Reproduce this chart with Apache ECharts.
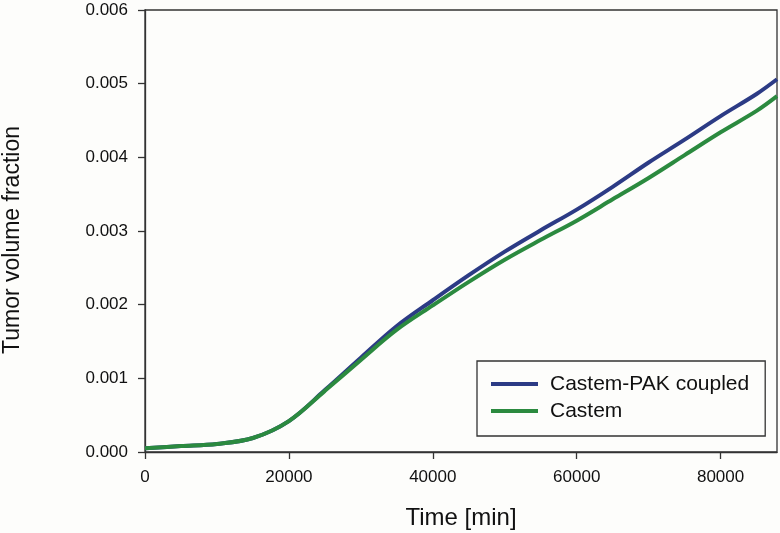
<!DOCTYPE html>
<html>
<head>
<meta charset="utf-8">
<script src="https://cdn.jsdelivr.net/npm/echarts@6/dist/echarts.min.js"></script>
<style>html,body{margin:0;padding:0;background:#fdfdfb;}#c{width:780px;height:533px;}</style>
</head>
<body>
<div id="c"></div>
<script>
var timeMin = [0, 5000, 10000, 15000, 20000, 25000, 30000, 35000, 40000, 45000, 50000, 55000, 60000, 65000, 70000, 75000, 80000, 85000, 87840];
var coupled = [0.00005, 0.00008, 0.00011, 0.00019, 0.00042, 0.00084, 0.00128, 0.00171, 0.00206, 0.00240, 0.00272, 0.00301, 0.00329, 0.00360, 0.00393, 0.00424, 0.00456, 0.00486, 0.00506];
var castem  = [0.00005, 0.00008, 0.00011, 0.00019, 0.00042, 0.00083, 0.00125, 0.00166, 0.00199, 0.00231, 0.00261, 0.00288, 0.00314, 0.00343, 0.00372, 0.00403, 0.00434, 0.00463, 0.00483];
var xTicks = [0, 20000, 40000, 60000, 80000];
var seriesNames = ['Castem-PAK coupled', 'Castem'];
var colors = ['#2c3b85', '#2b8a3f'];

function pairs(xs, ys){ return xs.map(function(x,i){ return [x, ys[i]]; }); }

var chart = echarts.init(document.getElementById('c'));
var font = 'Liberation Sans, Arial, sans-serif';
chart.setOption({
  backgroundColor: '#fdfdfb',
  animation: false,
  grid: { left: 145, right: 3, top: 10, bottom: 81, outerBoundsMode: 'none', containLabel: false, show: true, borderColor: '#333', borderWidth: 1.3, backgroundColor: 'transparent' },
  legend: {
    data: seriesNames,
    orient: 'vertical',
    left: 477, top: 361,
    padding: [11, 16, 13, 14],
    backgroundColor: '#fdfdfb',
    borderColor: '#333', borderWidth: 1.3,
    icon: 'rect', itemWidth: 47, itemHeight: 4, itemGap: 3,
    textStyle: { fontFamily: font, fontSize: 21, color: '#111', lineHeight: 24, padding: [0,0,0,7] }
  },
  xAxis: {
    type: 'value', min: 0, max: 87840, interval: 20000,
    name: 'Time [min]', nameLocation: 'middle', nameGap: 54,
    nameTextStyle: { fontFamily: font, fontSize: 24, color: '#111' },
    axisLine: { onZero: false, lineStyle: { color: '#333', width: 1.3 } },
    axisTick: { show: true, length: 7, inside: false, customValues: xTicks, lineStyle: { color: '#333', width: 1.3 } },
    axisLabel: { customValues: xTicks, margin: 17, fontFamily: font, fontSize: 17, color: '#111', formatter: function(v){ return String(v); } },
    splitLine: { show: false }
  },
  yAxis: {
    type: 'value', min: 0, max: 0.006, interval: 0.001,
    name: 'Tumor volume fraction', nameLocation: 'middle', nameGap: 121,
    nameTextStyle: { fontFamily: font, fontSize: 23, color: '#111', padding: [0, 18, 0, 0] },
    axisLine: { onZero: false, lineStyle: { color: '#333', width: 1.3 } },
    axisTick: { show: true, length: 7, inside: false, lineStyle: { color: '#333', width: 1.3 } },
    axisLabel: { margin: 17, fontFamily: font, fontSize: 17, color: '#111', formatter: function(v){ return v.toFixed(3); } },
    splitLine: { show: false }
  },
  series: [
    { name: seriesNames[0], type: 'line', data: pairs(timeMin, coupled), smooth: 0.35, showSymbol: false, color: colors[0], lineStyle: { width: 4, color: colors[0] }, z: 2 },
    { name: seriesNames[1], type: 'line', data: pairs(timeMin, castem), smooth: 0.35, showSymbol: false, color: colors[1], lineStyle: { width: 4, color: colors[1] }, z: 3 }
  ]
});
</script>
</body>
</html>
